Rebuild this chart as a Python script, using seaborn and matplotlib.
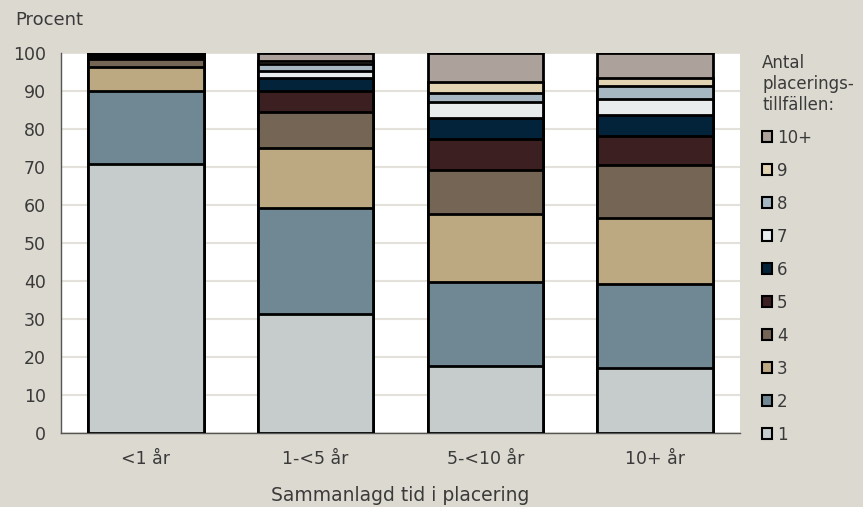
import numpy as np
import pandas as pd
import matplotlib
matplotlib.use("Agg")
import matplotlib.pyplot as plt
from matplotlib.patches import Patch
import seaborn as sns

# Data (percent per group)
groups = ["<1 år", "1-<5 år", "5-<10 år", "10+ år"]
levels = ["1", "2", "3", "4", "5", "6", "7", "8", "9", "10+"]

share_1 = [70.8, 31.3, 17.7, 17.1]
share_2 = [19.2, 28.0, 22.0, 22.0]
share_3 = [6.3, 15.7, 17.8, 17.4]
share_4 = [2.1, 9.5, 11.7, 14.0]
share_5 = [0.6, 5.6, 8.2, 7.7]
share_6 = [0.4, 3.3, 5.6, 5.5]
share_7 = [0.2, 1.9, 4.2, 4.2]
share_8 = [0.1, 1.7, 2.4, 3.3]
share_9 = [0.1, 0.9, 2.7, 2.1]
share_10 = [0.2, 2.1, 7.7, 6.7]

colors = ["#C6CBCB", "#708794", "#BCA982", "#756555", "#3C1F20",
          "#03233A", "#E8ECEC", "#A7B7C2", "#E2D3B2", "#ACA29B"]

shares = [share_1, share_2, share_3, share_4, share_5,
          share_6, share_7, share_8, share_9, share_10]

df = pd.DataFrame(np.array(shares).T, columns=levels)
df.insert(0, "grupp", groups)
cum = df[levels].cumsum(axis=1)
cum["grupp"] = groups

sns.set_style("white")
plt.rcParams["font.family"] = ["DejaVu Sans"]
bg = "#DCDAD0"
txt = "#3A3A3A"
fs = 12

fig = plt.figure(figsize=(8.63, 5.07), dpi=100, facecolor=bg)
ax = fig.add_axes([0.0707, 0.146, 0.7868, 0.7495])
ax.set_facecolor("white")

# stacked bars: draw cumulative totals from the top level down
for lev, col in reversed(list(zip(levels, colors))):
    sns.barplot(data=cum, x="grupp", y=lev, color=col, width=0.68,
                edgecolor="black", linewidth=2, saturation=1, ax=ax, zorder=3)

ax.set_ylim(0, 100)
ax.set_xlim(-0.5, 3.5)
ax.set_yticks(range(0, 101, 10))
ax.yaxis.grid(True, color="#E4E1DA", linewidth=1.5, zorder=0)
ax.set_axisbelow(True)
ax.tick_params(axis="y", length=0, labelsize=12.5, colors=txt, pad=11)
ax.tick_params(axis="x", which="major", length=0, labelsize=12.5,
               colors=txt, pad=12)
ax.set_xticks([-0.5, 0.5, 1.5, 2.5, 3.5], minor=True)
ax.tick_params(axis="x", which="minor", length=6, color="#666666", direction="out")
for s in ["top", "right"]:
    ax.spines[s].set_visible(False)
for s in ["left", "bottom"]:
    ax.spines[s].set_color("#555555")
    ax.spines[s].set_linewidth(1)

ax.set_ylabel("")
ax.set_xlabel("Sammanlagd tid i placering", fontsize=13.5, color=txt, labelpad=13)
fig.text(15 / 863, 1 - 20 / 507, "Procent", fontsize=13, color=txt,
         ha="left", va="center")

handles = [Patch(facecolor=c, edgecolor="black", linewidth=1.5, label=l)
           for l, c in zip(levels, colors)][::-1]
leg = fig.legend(handles=handles, loc="upper left",
                 bbox_to_anchor=(747 / 863, 1 - 39 / 507),
                 title="Antal\nplacerings-\ntillfällen:", alignment="left",
                 frameon=False, fontsize=fs, title_fontsize=fs,
                 handlelength=0.6, handleheight=0.6, handletextpad=0.3,
                 labelspacing=0.9)
for t in leg.get_texts():
    t.set_color(txt)
leg.get_title().set_color(txt)

fig.savefig("out.png", dpi=100, facecolor=bg)
